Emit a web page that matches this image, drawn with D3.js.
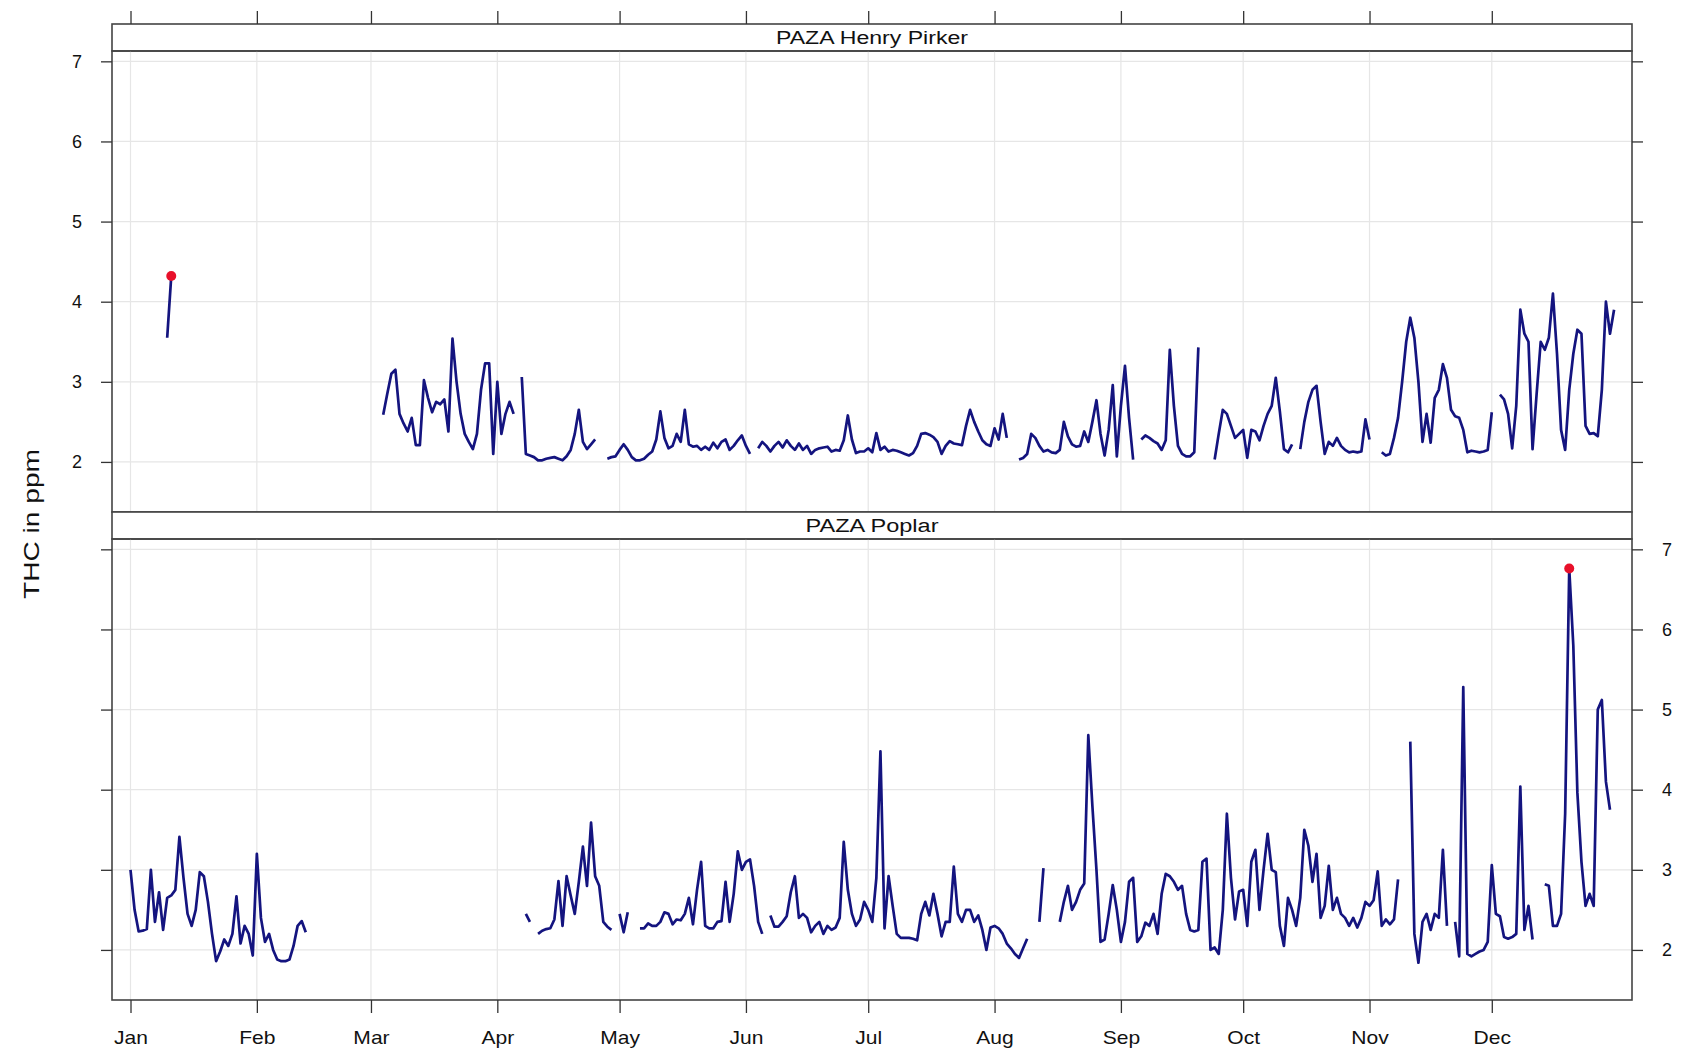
<!DOCTYPE html>
<html>
<head>
<meta charset="utf-8">
<script src="https://cdn.jsdelivr.net/npm/d3@7/dist/d3.min.js"></script>
<style>
  body { margin: 0; background: #fff; }
  text { font-family: "Liberation Sans", Arial, Helvetica, sans-serif; fill: #111; }
</style>
</head>
<body>
<svg id="chart" width="1684" height="1054"></svg>
<script>
'use strict';

var monthLabels = ['Jan', 'Feb', 'Mar', 'Apr', 'May', 'Jun', 'Jul', 'Aug', 'Sep', 'Oct', 'Nov', 'Dec'];
var yTicks = [2, 3, 4, 5, 6, 7];
var stations = ['PAZA Henry Pirker', 'PAZA Poplar'];

// daily THC (ppm), one value per day of the year, null = no data
var henryPirker = [
  null, null, null, null, null, null, null, null, null, 3.55,
  4.32, null, null, null, null, null, null, null, null, null,
  null, null, null, null, null, null, null, null, null, null,
  null, null, null, null, null, null, null, null, null, null,
  null, null, null, null, null, null, null, null, null, null,
  null, null, null, null, null, null, null, null, null, null,
  null, null, 2.59, 2.85, 3.1, 3.15, 2.6, 2.48, 2.38, 2.55,
  2.21, 2.21, 3.02, 2.8, 2.62, 2.75, 2.72, 2.78, 2.38, 3.54,
  3.0, 2.6, 2.35, 2.25, 2.16, 2.35, 2.9, 3.23, 3.23, 2.1,
  3.0, 2.35, 2.6, 2.75, 2.6, null, 3.06, 2.1, 2.08, 2.06,
  2.02, 2.02, 2.04, 2.05, 2.06, 2.04, 2.02, 2.07, 2.15, 2.35,
  2.65, 2.25, 2.16, 2.22, 2.28, null, null, 2.04, 2.06, 2.07,
  2.15, 2.22, 2.15, 2.06, 2.02, 2.02, 2.04, 2.09, 2.13, 2.28,
  2.63, 2.3, 2.17, 2.2, 2.35, 2.25, 2.65, 2.22, 2.19, 2.2,
  2.15, 2.19, 2.15, 2.24, 2.17, 2.25, 2.28, 2.15, 2.2, 2.27,
  2.33, 2.2, 2.1, null, 2.17, 2.25, 2.2, 2.13, 2.2, 2.25,
  2.18, 2.27, 2.2, 2.15, 2.23, 2.15, 2.2, 2.1, 2.15, 2.17,
  2.18, 2.19, 2.13, 2.15, 2.14, 2.27, 2.58, 2.28, 2.11, 2.13,
  2.13, 2.17, 2.12, 2.36, 2.15, 2.19, 2.13, 2.15, 2.14, 2.12,
  2.1, 2.08, 2.11, 2.2, 2.35, 2.36, 2.34, 2.31, 2.25, 2.1,
  2.2, 2.26, 2.23, 2.22, 2.21, 2.45, 2.65, 2.5, 2.38, 2.27,
  2.22, 2.2, 2.42, 2.28, 2.6, 2.3, null, null, 2.03, 2.05,
  2.1, 2.35, 2.3, 2.2, 2.13, 2.15, 2.12, 2.11, 2.15, 2.5,
  2.32, 2.22, 2.19, 2.2, 2.38, 2.25, 2.5, 2.77, 2.35, 2.08,
  2.4, 2.96, 2.07, 2.7, 3.2, 2.55, 2.03, null, 2.28, 2.33,
  2.3, 2.26, 2.23, 2.15, 2.27, 3.4, 2.7, 2.2, 2.1, 2.07,
  2.07, 2.12, 3.43, null, null, null, 2.03, 2.35, 2.65, 2.6,
  2.45, 2.3, 2.35, 2.4, 2.05, 2.4, 2.38, 2.27, 2.45, 2.6,
  2.7, 3.05, 2.63, 2.16, 2.12, 2.22, null, 2.16, 2.5, 2.75,
  2.9, 2.95, 2.5, 2.1, 2.25, 2.2, 2.3, 2.2, 2.15, 2.12,
  2.13, 2.12, 2.13, 2.53, 2.28, null, null, 2.12, 2.08, 2.1,
  2.3, 2.55, 3.0, 3.5, 3.8, 3.55, 3.0, 2.25, 2.6, 2.24,
  2.8, 2.9, 3.22, 3.05, 2.65, 2.57, 2.55, 2.4, 2.12, 2.14,
  2.13, 2.12, 2.13, 2.15, 2.62, null, 2.84, 2.78, 2.6, 2.17,
  2.7, 3.9, 3.6, 3.5, 2.16, 2.85, 3.5, 3.4, 3.55, 4.1,
  3.35, 2.4, 2.15, 2.9, 3.35, 3.65, 3.6, 2.45, 2.35, 2.36,
  2.32, 2.9, 4.0, 3.6, 3.9
];

var poplar = [
  3.0, 2.5, 2.23, 2.24, 2.26, 3.0, 2.35, 2.72, 2.25, 2.65,
  2.68, 2.75, 3.41, 2.9, 2.45, 2.3, 2.5, 2.97, 2.92, 2.6,
  2.2, 1.86, 1.98, 2.13, 2.05, 2.2, 2.67, 2.08, 2.3, 2.2,
  1.93, 3.2, 2.4, 2.1, 2.2, 2.0, 1.88, 1.86, 1.86, 1.88,
  2.05, 2.3, 2.36, 2.22, null, null, null, null, null, null,
  null, null, null, null, null, null, null, null, null, null,
  null, null, null, null, null, null, null, null, null, null,
  null, null, null, null, null, null, null, null, null, null,
  null, null, null, null, null, null, null, null, null, null,
  null, null, null, null, null, null, null, 2.45, 2.35, null,
  2.2, 2.24, 2.26, 2.27, 2.38, 2.86, 2.3, 2.92, 2.68, 2.45,
  2.85, 3.29, 2.8, 3.59, 2.92, 2.8, 2.35, 2.29, 2.25, null,
  2.45, 2.22, 2.47, null, null, 2.27, 2.27, 2.33, 2.3, 2.3,
  2.35, 2.47, 2.45, 2.32, 2.38, 2.37, 2.45, 2.65, 2.32, 2.75,
  3.1, 2.3, 2.27, 2.27, 2.35, 2.36, 2.85, 2.35, 2.7, 3.23,
  3.0, 3.1, 3.13, 2.8, 2.35, 2.2, null, 2.43, 2.29, 2.29,
  2.35, 2.42, 2.72, 2.92, 2.4, 2.45, 2.4, 2.22, 2.3, 2.35,
  2.2, 2.3, 2.25, 2.28, 2.4, 3.35, 2.75, 2.45, 2.3, 2.38,
  2.6, 2.5, 2.35, 2.9, 4.48, 2.27, 2.92, 2.55, 2.2, 2.15,
  2.15, 2.15, 2.14, 2.12, 2.45, 2.6, 2.43, 2.7, 2.45, 2.17,
  2.35, 2.35, 3.04, 2.45, 2.35, 2.5, 2.5, 2.35, 2.43, 2.25,
  2.0, 2.28, 2.3, 2.27, 2.2, 2.08, 2.02, 1.95, 1.9, 2.02,
  2.14, null, null, 2.35, 3.02, null, null, null, 2.35, 2.6,
  2.8, 2.5, 2.6, 2.75, 2.83, 4.68, 3.8, 3.0, 2.1, 2.13,
  2.45, 2.81, 2.5, 2.1, 2.35, 2.85, 2.9, 2.1, 2.17, 2.34,
  2.3, 2.45, 2.2, 2.7, 2.95, 2.92, 2.85, 2.75, 2.8, 2.45,
  2.25, 2.23, 2.25, 3.1, 3.14, 2.0, 2.03, 1.95, 2.5, 3.7,
  2.9, 2.38, 2.73, 2.75, 2.3, 3.1, 3.25, 2.5, 3.0, 3.45,
  3.0, 2.97, 2.3, 2.05, 2.65, 2.5, 2.3, 2.65, 3.5, 3.3,
  2.85, 3.2, 2.4, 2.55, 3.05, 2.5, 2.65, 2.45, 2.4, 2.3,
  2.4, 2.28, 2.4, 2.6, 2.55, 2.62, 2.98, 2.3, 2.38, 2.32,
  2.38, 2.88, null, null, 4.6, 2.2, 1.84, 2.35, 2.45, 2.25,
  2.45, 2.4, 3.25, 2.3, null, 2.35, 1.92, 5.28, 1.95, 1.92,
  1.95, 1.98, 2.0, 2.1, 3.06, 2.45, 2.42, 2.16, 2.14, 2.16,
  2.2, 4.04, 2.25, 2.55, 2.13, null, null, 2.82, 2.8, 2.3,
  2.3, 2.45, 3.7, 6.76, 5.8, 3.96, 3.1, 2.55, 2.7, 2.55,
  5.0, 5.12, 4.1, 3.75, null
];

var marginLeft = 112, marginTop = 24,
  width = 1520,
  stripH = 27,
  panelH = 461;

var DAY = 864e5,
  yearStart = Date.UTC(2013, 0, 1);

var x = d3.scaleUtc()
  .domain([new Date(yearStart - 4.54 * DAY), new Date(yearStart + 368.4 * DAY)])
  .range([0, width]);

var y = d3.scaleLinear()
  .domain([1.375, 7.129])
  .range([panelH, 0]);

var months = monthLabels.map(function(m, i) {
  return new Date(Date.UTC(2013, i, 1));
});

var svg = d3.select('#chart');
var chart = svg.append('g')
  .attr('transform', 'translate(' + marginLeft + ',' + marginTop + ')');

var line = d3.line()
  .defined(function(d) { return d.v != null; })
  .x(function(d) { return x(d.date); })
  .y(function(d) { return y(d.v); });

function toPoints(arr) {
  return arr.map(function(v, i) {
    return {date: new Date(yearStart + i * DAY), v: v};
  });
}

function styleAxis(g) {
  g.select('.domain').remove();
  g.selectAll('.tick line').attr('stroke', '#333').attr('stroke-width', 1.3);
  g.selectAll('.tick text')
    .attr('fill', '#1a1a1a')
    .style('font-size', '18px');
}

[henryPirker, poplar].forEach(function(series, i) {
  var data = toPoints(series);
  var g = chart.append('g')
    .attr('transform', 'translate(0,' + (i * (stripH + panelH)) + ')');

  // strip
  g.append('rect')
    .attr('width', width)
    .attr('height', stripH)
    .attr('fill', '#fff')
    .attr('stroke', '#444')
    .attr('stroke-width', 1.6);
  g.append('text')
    .attr('x', width / 2)
    .attr('y', stripH / 2)
    .attr('dy', '0.36em')
    .attr('text-anchor', 'middle')
    .attr('textLength', i === 0 ? 192 : 133)
    .attr('lengthAdjust', 'spacingAndGlyphs')
    .style('font-size', '18px')
    .text(stations[i]);

  var p = g.append('g')
    .attr('transform', 'translate(0,' + stripH + ')');

  // grid
  p.selectAll('.vgrid')
    .data(months)
    .enter().append('line')
    .attr('x1', function(d) { return x(d); })
    .attr('x2', function(d) { return x(d); })
    .attr('y1', 0)
    .attr('y2', panelH)
    .attr('stroke', '#e6e6e6')
    .attr('stroke-width', 1.2);
  p.selectAll('.hgrid')
    .data(yTicks)
    .enter().append('line')
    .attr('x1', 0)
    .attr('x2', width)
    .attr('y1', function(d) { return y(d); })
    .attr('y2', function(d) { return y(d); })
    .attr('stroke', '#e6e6e6')
    .attr('stroke-width', 1.2);

  p.append('path')
    .datum(data)
    .attr('fill', 'none')
    .attr('stroke', '#14147f')
    .attr('stroke-width', 2.7)
    .attr('stroke-linejoin', 'round')
    .attr('d', line);

  var maxPt = data.reduce(function(a, b) {
    return (b.v != null && (a == null || b.v > a.v)) ? b : a;
  }, null);
  p.append('circle')
    .attr('cx', x(maxPt.date))
    .attr('cy', y(maxPt.v))
    .attr('r', 5)
    .attr('fill', '#e8102a');

  p.append('rect')
    .attr('width', width)
    .attr('height', panelH)
    .attr('fill', 'none')
    .attr('stroke', '#444')
    .attr('stroke-width', 1.6);

  // y axes: labels alternate left (top panel) / right (bottom panel)
  var yl = p.append('g')
    .call(d3.axisLeft(y).tickValues(yTicks).tickSize(11).tickPadding(19)
      .tickFormat(i === 0 ? d3.format('d') : ''));
  styleAxis(yl);
  var yr = p.append('g')
    .attr('transform', 'translate(' + width + ',0)')
    .call(d3.axisRight(y).tickValues(yTicks).tickSize(11).tickPadding(19)
      .tickFormat(i === 1 ? d3.format('d') : ''));
  styleAxis(yr);
});

var totalH = 2 * (stripH + panelH);

var xt = chart.append('g')
  .call(d3.axisTop(x).tickValues(months).tickSize(13).tickFormat(''));
styleAxis(xt);

var xb = chart.append('g')
  .attr('transform', 'translate(0,' + totalH + ')')
  .call(d3.axisBottom(x).tickValues(months).tickSize(13).tickPadding(18)
    .tickFormat(function(d, i) { return monthLabels[i]; }));
styleAxis(xb);
xb.selectAll('.tick text')
  .attr('transform', 'scale(1.17,1)');

svg.append('text')
  .attr('transform', 'translate(31,524) rotate(-90)')
  .attr('text-anchor', 'middle')
  .attr('dy', '0.36em')
  .attr('textLength', 150)
  .attr('lengthAdjust', 'spacingAndGlyphs')
  .style('font-size', '22px')
  .text('THC in ppm');
</script>
</body>
</html>
